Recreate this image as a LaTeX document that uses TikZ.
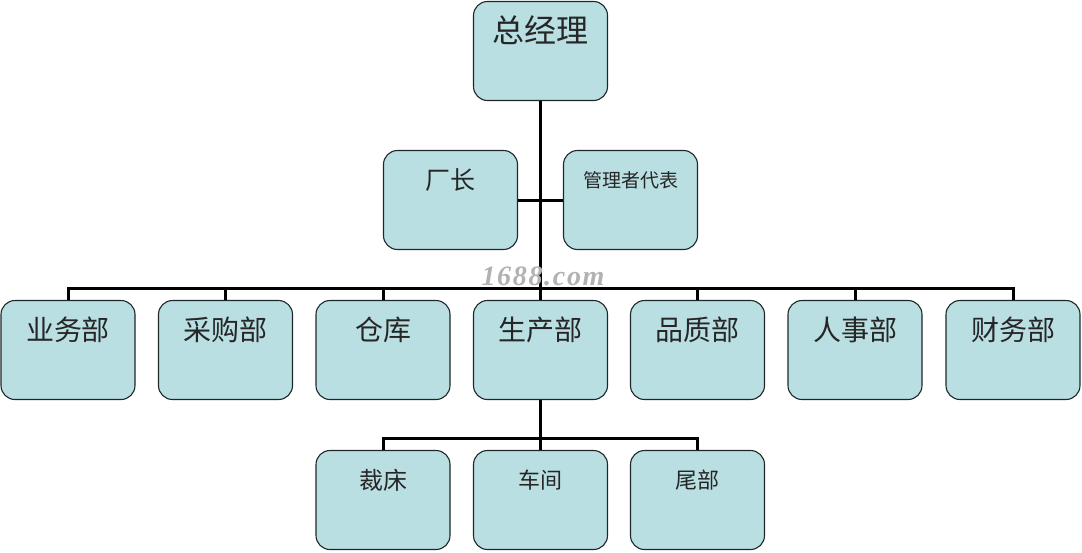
\documentclass[tikz,border=0pt]{standalone}
\usepackage{fontspec}
\usetikzlibrary{calc}
\newfontfamily\cjk{Noto Sans CJK SC}
\newfontfamily\wm[LetterSpace=6]{Liberation Serif}
\definecolor{boxfill}{RGB}{186,223,226}
\definecolor{boxline}{RGB}{30,40,40}
\begin{document}
\begin{tikzpicture}[x=1pt,y=-1pt,
  box/.style={draw=boxline, line width=1.1pt, fill=boxfill, rounded corners=14pt,
    minimum width=134pt, minimum height=99pt, inner sep=0pt},
  conn/.style={line width=3pt, draw=black},
  tx/.style={font=\cjk, text=black!85, inner sep=0pt}]
\useasboundingbox (0,0) rectangle (1082,552);
\fill[white] (0,0) rectangle (1082,552);
% boxes
\node[box] (gm) at (540.5,51) {};
\node[box] (cz) at (450.5,200) {};
\node[box] (gl) at (630.5,200) {};
\node[box] (b1) at (68,350) {};
\node[box] (b2) at (225.5,350) {};
\node[box] (b3) at (383,350) {};
\node[box] (b4) at (540.5,350) {};
\node[box] (b5) at (697.5,350) {};
\node[box] (b6) at (855,350) {};
\node[box] (b7) at (1013,350) {};
\node[box] (c1) at (383,500) {};
\node[box] (c2) at (540.5,500) {};
\node[box] (c3) at (697.5,500) {};
% texts
\node[tx, font=\cjk\fontsize{32}{34}\selectfont] (tgm) at (540.5,30) {总经理};
\node[tx, font=\cjk\fontsize{25}{27}\selectfont] (tcz) at (450.5,180) {厂长};
\node[tx, font=\cjk\fontsize{19}{21}\selectfont] (tgl) at (630.5,180) {管理者代表};
\foreach \n/\t in {b1/业务部,b2/采购部,b3/仓库,b4/生产部,b5/品质部,b6/人事部,b7/财务部}
  \node[tx, font=\cjk\fontsize{28}{30}\selectfont] (t\n) at ($(\n.north)+(0,30)$) {\t};
\node[tx, font=\cjk\fontsize{24}{26}\selectfont] (tc1) at (383,480) {裁床};
\node[tx, font=\cjk\fontsize{22}{24}\selectfont] (tc2) at (540.5,480) {车间};
\node[tx, font=\cjk\fontsize{22}{24}\selectfont] (tc3) at (697.5,480) {尾部};
% connectors
\coordinate (h1) at (541,288);
\coordinate (h2) at (541,438);
\draw[conn] (gm.south) -- (b4.north);
\draw[conn] (cz.east) -- (gl.west);
\draw[conn] (b1.north) -- (b1.north |- h1) -- (b7.north |- h1) -- (b7.north);
\foreach \n in {b2,b3,b5,b6}
  \draw[conn] (\n.north) -- (\n.north |- h1);
\draw[conn] (b4.south) -- (c2.north);
\draw[conn] (c1.north) -- (c1.north |- h2) -- (c3.north |- h2) -- (c3.north);
% watermark
\node[font=\wm\fontsize{28}{30}\selectfont\bfseries\itshape, text=black!30, inner sep=0pt] (wmk) at (543,276) {1688.com};
\end{tikzpicture}
\end{document}
